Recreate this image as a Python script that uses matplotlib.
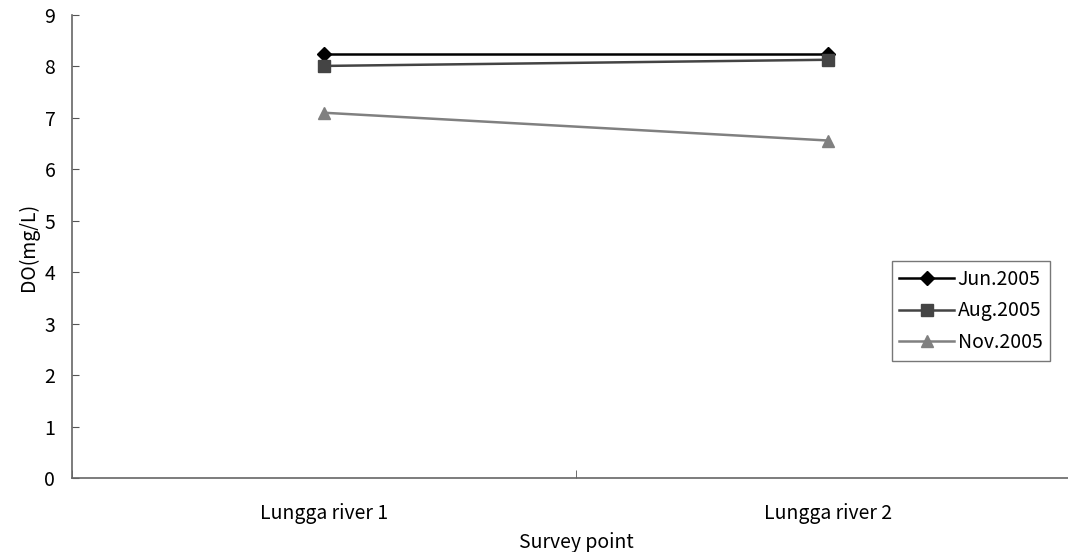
import numpy as np
import matplotlib.pyplot as plt

plt.rcParams['font.family'] = ['Noto Sans CJK JP', 'DejaVu Sans']

# survey points and dissolved oxygen readings (mg/L)
sites = ["Lungga river 1", "Lungga river 2"]
months = ["Jun.2005", "Aug.2005", "Nov.2005"]
do_jun = [8.24, 8.24]
do_aug = [8.01, 8.13]
do_nov = [7.10, 6.56]

colors = ["#000000", "#444444", "#808080"]
markers = ["D", "s", "^"]
sizes = [7, 8, 9]

fig = plt.figure(figsize=(10.68, 5.52), dpi=100)
ax = fig.add_axes([72 / 1068, 74 / 552, 1008 / 1068, 463 / 552])

x = np.arange(len(sites)) + 0.5
for vals, lab, c, m, s in zip([do_jun, do_aug, do_nov], months, colors, markers, sizes):
    ax.plot(x, vals, color=c, marker=m, markersize=s, lw=1.8, label=lab,
            markeredgecolor=c, markerfacecolor=c)

ax.set_xlim(0, len(sites))
ax.set_ylim(0, 9)
ax.set_yticks(range(0, 10))
ax.set_xticks(x)
ax.set_xticklabels(sites)
ax.set_xticks(np.arange(len(sites) + 1), minor=True)
ax.tick_params(axis='x', which='major', length=0, pad=18, labelsize=14)
ax.tick_params(axis='x', which='minor', direction='in', length=6, color='#555555')
ax.tick_params(axis='y', direction='in', length=5, color='#555555', labelsize=14, pad=12)

for side in ['top', 'right']:
    ax.spines[side].set_visible(False)
for side in ['left', 'bottom']:
    ax.spines[side].set_color('#666666')
    ax.spines[side].set_linewidth(1.2)

ax.set_xlabel("Survey point", fontsize=14, labelpad=6)
ax.set_ylabel("DO(mg/L)", fontsize=14, labelpad=4)

leg = ax.legend(loc='upper left', bbox_to_anchor=(0.813, 0.469), frameon=True,
                fancybox=False, edgecolor='#555555', fontsize=14, handlelength=2.8,
                handletextpad=0.2, borderpad=0.4, labelspacing=0.55,
                borderaxespad=0)
leg.get_frame().set_linewidth(1.0)

fig.savefig("out.png", dpi=100)
